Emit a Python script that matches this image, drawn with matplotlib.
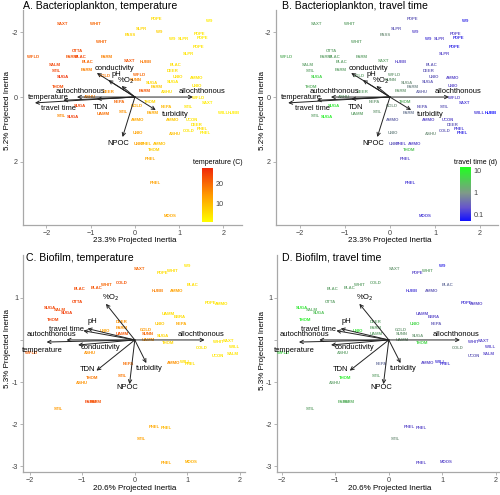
import matplotlib
matplotlib.use("Agg")
import matplotlib.pyplot as plt
from matplotlib.colors import LinearSegmentedColormap, Normalize, LogNorm
from matplotlib.cm import ScalarMappable

plt.rcParams['font.family'] = ['Liberation Sans', 'DejaVu Sans']

# ---- bacterioplankton site scores ----
plank_site = ["SAXT", "WHIT", "POPE", "W9", "SLPR", "W9", "PASS", "WHIT", "POPE", "W9",
              "SLPR", "POPE", "POPE", "SLPR", "WFLD", "OTTA", "FARM", "BLAC", "FARM", "BLAC",
              "SAXT", "HUBB", "BLAC", "SALM", "STIL", "FARM", "SUGA", "GOLD", "WFLD", "SUNN",
              "SUGA", "UNIO", "AMMO", "UNIO", "SUGA", "DEER", "FARM", "FARM", "ASHU", "WFLD",
              "SAXT", "NEPA", "STIL", "WILL", "HUBB", "THOM", "GOLD", "NEPA", "STIL", "FARM",
              "UAMM", "AMMO", "AMMO", "UCON", "DEER", "PHEL", "COLD", "PHEL", "ASHU", "UNIO",
              "UNIO", "PHEL", "AMMO", "THOM", "PHEL", "PHEL", "MOOS", "THOM", "ASHU", "SUGA",
              "STIL", "SUGA", "DEER"]
plank_x = [-1.63, -0.90, 0.50, 1.68, 0.15, 0.55, -0.10, -0.75, 1.45, 0.85,
           1.10, 1.52, 1.43, 1.20, -2.30, -1.29, -1.42, -1.22, -0.63, -1.08,
           -0.13, 0.25, 0.93, -1.82, -1.77, -1.10, -1.62, -0.68, 0.10, 0.03,
           0.38, 0.97, 1.40, 1.40, 0.85, -0.60, 0.23, 0.50, 0.72, 1.42,
           1.65, 0.72, 1.22, 1.99, 2.24, 0.34, 0.05, -0.34, -0.27, 0.41,
           -0.72, 0.05, 0.86, 1.29, 1.40, 1.53, 1.22, 1.60, 0.90, 0.07,
           0.10, 0.25, 0.55, 0.43, 0.34, 0.45, 0.79, -1.74, -1.02, -1.24,
           -1.65, -1.40, 0.85]
plank_y = [-2.25, -2.25, -2.40, -2.33, -2.10, -2.00, -1.90, -1.70, -1.93, -1.80,
           -1.80, -1.82, -1.55, -1.32, -1.24, -1.42, -1.24, -1.24, -1.24, -1.07,
           -1.10, -1.07, -0.98, -0.98, -0.80, -0.83, -0.62, -0.65, -0.67, -0.52,
           -0.43, -0.62, -0.58, -0.34, -0.45, -0.15, -0.18, -0.30, -0.15, 0.03,
           0.18, 0.30, 0.30, 0.50, 0.50, 0.15, 0.28, 0.15, 0.46, 0.50,
           0.52, 0.70, 0.70, 0.70, 0.86, 0.98, 1.05, 1.10, 1.14, 1.10,
           1.45, 1.45, 1.45, 1.63, 1.90, 2.65, 3.66, -0.30, 0.00, 0.28,
           0.58, 0.60, -0.80]
plank_temp = [22, 20, 5, 3, 6, 7, 6, 20, 4, 4,
              4, 3, 4, 4, 21, 23, 22, 24, 17, 20,
              22, 18, 5, 24, 24, 17, 26, 18, 20, 16,
              6, 5, 4, 4, 4, 15, 22, 8, 5, 4,
              3, 10, 4, 3, 3, 6, 12, 20, 15, 12,
              19, 12, 8, 4, 4, 5, 4, 3, 9, 13,
              13, 10, 9, 7, 12, 13, 12, 23, 17, 24,
              16, 25, 5]
plank_tt = [1.5, 1.5, 0.3, 0.1, 0.3, 0.2, 1.0, 1.5, 0.2, 0.15,
            0.2, 0.1, 0.1, 0.2, 2.0, 1.5, 1.5, 1.5, 1.5, 1.5,
            1.5, 0.2, 0.3, 1.5, 1.5, 1.5, 5.0, 1.5, 1.2, 1.2,
            1.0, 0.3, 0.2, 0.2, 0.3, 1.5, 1.2, 0.8, 0.4, 0.2,
            0.15, 0.3, 0.3, 0.15, 0.05, 2.0, 1.0, 1.2, 1.2, 0.6,
            1.5, 0.4, 0.2, 0.2, 0.3, 0.15, 0.3, 0.1, 1.0, 0.8,
            0.3, 0.2, 0.2, 3.0, 0.2, 0.15, 0.15, 2.0, 1.5, 8.0,
            1.5, 10.0, 0.3]

# ---- biofilm site scores ----
film_site = ["SAXT", "POPE", "WHIT", "W9", "BLAC", "BLAC", "WHIT", "COLD", "HUBB", "AMMO",
             "BLAC", "OTTA", "POPE", "AMMO", "SUGA", "SALM", "SUGA", "THOM", "UAMM", "EBRA",
             "UNIO", "NEPA", "DEER", "FARM", "UAMM", "UNIO", "GOLD", "SUNN", "UAMM", "SUGA",
             "THOM", "WHIT", "SAXT", "COLD", "WILL", "SALM", "UCON", "AMMO", "WILL", "PHEL",
             "NEPA", "ASHU", "WFLD", "THOM", "ASHU", "STIL", "FARM", "FARM", "STIL", "PHEL",
             "PHEL", "STIL", "PHEL", "MOOS"]
film_x = [0.10, 0.53, 0.72, 0.99, -1.05, -0.73, -0.55, -0.25, 0.44, 0.80,
          1.10, -1.09, 1.45, 1.65, -1.62, -1.43, -1.30, -1.56, 0.63, 0.85,
          0.48, 0.89, -0.25, -0.25, -0.23, -0.57, 0.22, 0.24, 0.25, 0.54,
          0.63, 1.59, 1.78, 1.28, 1.90, 1.87, 1.59, 0.73, 0.95, 1.05,
          -0.13, -0.86, -1.97, -0.82, -1.00, -0.23, -0.84, -0.74, -1.46, 0.38,
          0.60, 0.13, 0.61, 1.08]
film_y = [1.69, 1.60, 1.65, 1.76, 1.21, 1.24, 1.30, 1.36, 1.17, 1.17,
          1.31, 0.90, 0.88, 0.86, 0.76, 0.72, 0.64, 0.48, 0.62, 0.55,
          0.38, 0.38, 0.43, 0.29, 0.14, 0.22, 0.23, 0.15, 0.00, 0.10,
          -0.07, -0.05, -0.03, -0.19, -0.17, -0.33, -0.37, -0.55, -0.52, -0.58,
          -0.57, -0.31, -0.30, -0.90, -1.02, -0.86, -1.48, -1.47, -1.65, -2.07,
          -2.10, -2.36, -2.93, -2.90]
film_temp = [20, 5, 5, 4, 23, 22, 20, 22, 17, 13,
             5, 24, 4, 4, 24, 23, 25, 24, 5, 5,
             8, 12, 15, 15, 22, 13, 14, 20, 15, 6,
             6, 4, 4, 4, 4, 4, 4, 15, 5, 5,
             19, 15, 21, 18, 15, 18, 24, 22, 14, 12,
             10, 13, 12, 11]
film_tt = [1.2, 0.2, 1.5, 0.1, 1.5, 1.5, 1.5, 1.5, 0.15, 0.3,
           0.5, 1.5, 0.15, 0.2, 8.0, 2.0, 3.0, 10.0, 0.2, 0.2,
           5.0, 0.3, 1.5, 1.5, 1.5, 8.0, 1.2, 1.2, 1.2, 1.2,
           5.0, 0.2, 0.2, 1.0, 0.2, 0.2, 0.3, 0.2, 0.15, 0.15,
           0.5, 1.5, 5.0, 10.0, 1.5, 1.5, 2.0, 2.0, 1.5, 0.2,
           0.2, 1.0, 0.2, 0.2]

# ---- environmental vectors (tips) ----
vec_names = ["temperature", "travel time", "autochthonous", "TDN", "conductivity",
             "pH", "%O$_2$", "allochthonous", "turbidity", "NPOC"]
plank_vx = [-2.26, -1.62, -1.31, -0.86, -0.86, -0.60, -0.30, 1.31, 0.47, -0.28]
plank_vy = [0.18, 0.10, 0.00, 0.06, -0.74, -0.52, -0.34, 0.00, 0.40, 1.23]
film_vx = [-1.68, -0.98, -1.30, -0.73, -1.08, -0.90, -0.55, 1.33, 0.22, -0.10]
film_vy = [-0.05, 0.22, 0.00, -0.73, -0.12, 0.27, 0.86, 0.00, -0.55, -1.05]

# where each vector's name sits
plank_lx = [-1.96, -1.72, -1.24, -0.77, -0.47, -0.41, -0.20, 1.52, 0.90, -0.38]
plank_ly = [0.00, 0.34, -0.18, 0.31, -0.89, -0.68, -0.49, -0.17, 0.55, 1.42]
film_lx = [-1.77, -1.31, -1.58, -0.90, -0.65, -0.80, -0.46, 1.26, 0.27, -0.15]
film_ly = [-0.24, 0.26, 0.12, -0.71, -0.19, 0.43, 1.00, 0.14, -0.67, -1.14]

temp_cmap = LinearSegmentedColormap.from_list("temp", ["#ffff00", "#ff9a00", "#f0280a"])
temp_norm = Normalize(0.5, 27.5)
tt_cmap = LinearSegmentedColormap.from_list(
    "tt", [(0, "#1010ff"), (0.25, "#6655cc"), (0.52, "#7f9a88"), (1, "#20ff20")])
tt_norm = LogNorm(0.05, 15)

W, H = 500, 495
fig = plt.figure(figsize=(5, 4.95), dpi=100)


def px(l, t, r, b):
    return [l / W, 1 - b / H, (r - l) / W, (b - t) / H]


def panel(rect, sites, xs, ys, cvals, cmap, norm, vx, vy, lx, ly, xlim, ylim,
          yticks, yticklabels, title, tpos, xlab, xlpos, ylab, ylpos):
    ax = fig.add_axes(rect)
    for s, x, y, v in zip(sites, xs, ys, cvals):
        ax.text(x, y, s, ha='center', va='center', fontsize=3.1, fontweight='bold',
                color=cmap(norm(v)))
    for x, y in zip(vx, vy):
        ax.annotate('', xy=(x, y), xytext=(0, 0),
                    arrowprops=dict(arrowstyle='->', lw=0.7, color='#222222',
                                    mutation_scale=6, shrinkA=0, shrinkB=0))
    for n, x, y in zip(vec_names, lx, ly):
        ax.text(x, y, n, ha='center', va='center', fontsize=5.4, color='black')
    ax.set_xlim(*xlim)
    ax.set_ylim(*ylim)
    ax.set_xticks([-2, -1, 0, 1, 2])
    ax.set_yticks(yticks)
    ax.set_yticklabels(yticklabels)
    for sp in ['top', 'right']:
        ax.spines[sp].set_visible(False)
    for sp in ['left', 'bottom']:
        ax.spines[sp].set_color('#a8a8a8')
        ax.spines[sp].set_linewidth(0.9)
    ax.tick_params(length=2, width=0.6, color='#a8a8a8', pad=1.5,
                   labelsize=5.2, labelcolor='#444444')
    fig.text(tpos[0] / W, 1 - tpos[1] / H, title, fontsize=7.6, ha='left', va='center')
    fig.text(xlpos[0] / W, 1 - xlpos[1] / H, xlab, fontsize=5.8, ha='center', va='center')
    fig.text(ylpos[0] / W, 1 - ylpos[1] / H, ylab, fontsize=5.8, ha='center',
             va='center', rotation=90)
    return ax


axA = panel(px(23, 10, 242, 225), plank_site, plank_x, plank_y, plank_temp, temp_cmap,
            temp_norm, plank_vx, plank_vy, plank_lx, plank_ly, (-2.53, 2.42), (3.94, -2.68),
            [-2, 0, 2], ['-2', '0', '2'], "A. Bacterioplankton, temperature", (23, 6),
            "23.3% Projected Inertia", (135, 240), "5.2% Projected Inertia", (8, 110))
axB = panel(px(276, 10, 498, 225), plank_site, plank_x, plank_y, plank_tt, tt_cmap,
            tt_norm, plank_vx, plank_vy, plank_lx, plank_ly, (-2.53, 2.40), (3.94, -2.68),
            [-2, 0, 2], ['-2', '0', '2'], "B. Bacterioplankton, travel time", (282, 6),
            "23.3% Projected Inertia", (390, 240), "5.2% Projected Inertia", (262, 110))
axC = panel(px(23, 255, 245, 472), film_site, film_x, film_y, film_temp, temp_cmap,
            temp_norm, film_vx, film_vy, film_lx, film_ly, (-2.13, 2.10), (-3.14, 2.02),
            [-3, -2, -1, 0, 1], ['-3', '-2', '-1', '', '1'], "C. Biofilm, temperature",
            (26, 258), "20.6% Projected Inertia", (135, 488), "5.3% Projected Inertia",
            (8, 349))
axD = panel(px(277, 255, 499, 472), film_site, film_x, film_y, film_tt, tt_cmap,
            tt_norm, film_vx, film_vy, film_lx, film_ly, (-2.09, 2.06), (-3.14, 2.02),
            [-3, -2, -1, 0, 1], ['-3', '-2', '-1', '', '1'], "D. Biofilm, travel time",
            (282, 258), "20.6% Projected Inertia", (390, 488), "5.3% Projected Inertia",
            (262, 350))

# colour bars
caxA = fig.add_axes(px(202, 168, 213, 222))
cbA = fig.colorbar(ScalarMappable(norm=temp_norm, cmap=temp_cmap), cax=caxA, ticks=[10, 20])
caxB = fig.add_axes(px(460, 167, 471, 221))
cbB = fig.colorbar(ScalarMappable(norm=tt_norm, cmap=tt_cmap), cax=caxB, ticks=[0.1, 1, 10])
cbB.ax.set_yticklabels(['0.1', '1', '10'])
cbB.ax.minorticks_off()
for cb in (cbA, cbB):
    cb.outline.set_visible(False)
    cb.ax.tick_params(length=0, pad=2, labelsize=5.2, labelcolor='#444444')
fig.text(193 / W, 1 - 162 / H, "temperature (C)", fontsize=5.0, ha='left', va='center')
fig.text(454 / W, 1 - 162 / H, "travel time (d)", fontsize=5.0, ha='left', va='center')

fig.savefig("out.png", dpi=100)
